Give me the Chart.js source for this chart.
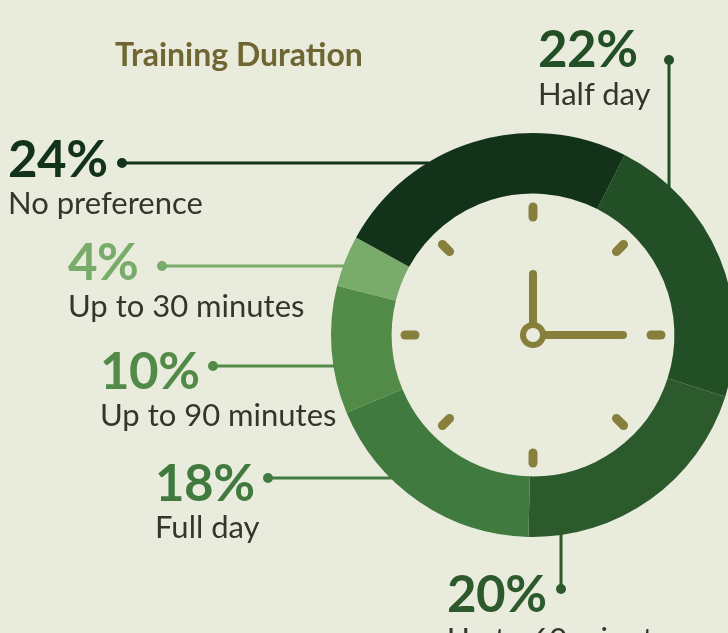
<!DOCTYPE html>
<html>
<head>
<meta charset="utf-8">
<script src="https://cdn.jsdelivr.net/npm/chart.js@4.4.1/dist/chart.umd.min.js"></script>
<style>
  html, body { margin: 0; padding: 0; background: #e9ebdd; overflow: hidden; }
  #wrap { position: relative; width: 760px; height: 633px; }
  #wrap canvas { position: absolute; left: 0; top: 0; }
  .txt { position: absolute; font-family: Lato, sans-serif; line-height: 1; white-space: nowrap; }
  .title { font-size: 32px; font-weight: 700; color: #6f6632; }
  .pct { font-size: 51px; font-weight: 700; letter-spacing: -0.5px; }
  .lab { font-size: 31px; font-weight: 400; color: #35362b; }
</style>
</head>
<body>
<div id="wrap">
  <canvas id="chart" width="760" height="633"></canvas>
</div>
<script>
// Training Duration — clock doughnut
const labels = ['Half day', 'Up to 60 minutes', 'Full day', 'Up to 90 minutes', 'Up to 30 minutes', 'No preference'];
const shares = [22, 20, 18, 10, 4, 24];
const sliceColors = ['#234f26', '#2d5a2d', '#417a3f', '#528b47', '#79ab6a', '#12331a'];

// where each callout sits (dot, leader direction, text left + baselines)
const callouts = [
  { dot: [669, 60],  dir: 'v', x: 538, pctBase: 67,  labBase: 105 },
  { dot: [561, 589], dir: 'v', x: 447, pctBase: 612, labBase: 650 },
  { dot: [268, 478], dir: 'h', x: 155, pctBase: 501, labBase: 538 },
  { dot: [213, 366], dir: 'h', x: 100, pctBase: 389, labBase: 426 },
  { dot: [162, 266], dir: 'h', x: 68,  pctBase: 280, labBase: 317 },
  { dot: [122, 163], dir: 'h', x: 8,   pctBase: 177, labBase: 214 }
];

const olive = '#877f3c';
const bg = '#e9ebdd';

function addText(cls, text, left, baseline, size, color) {
  const d = document.createElement('div');
  d.className = 'txt ' + cls;
  d.textContent = text;
  d.style.left = left + 'px';
  d.style.top = (baseline - 0.887 * size) + 'px';
  if (color) d.style.color = color;
  document.getElementById('wrap').appendChild(d);
}

addText('title', 'Training Duration', 115, 66, 32);
labels.forEach((l, i) => {
  const c = callouts[i];
  addText('pct', shares[i] + '%', c.x, c.pctBase, 51, sliceColors[i]);
  addText('lab', l, c.x, c.labBase, 31);
});

const leaders = {
  id: 'leaders',
  beforeDatasetsDraw(chart) {
    const arc = chart.getDatasetMeta(0).data[0];
    const cx = arc.x, cy = arc.y, r = arc.outerRadius;
    const ctx = chart.ctx;
    ctx.save();
    callouts.forEach((c, i) => {
      const [x, y] = c.dot;
      let ex, ey;
      if (c.dir === 'h') {
        ey = y;
        ex = cx - Math.sqrt(r * r - (y - cy) * (y - cy)) + 2;
      } else {
        ex = x;
        const s = y < cy ? -1 : 1;
        ey = cy + s * (Math.sqrt(r * r - (x - cx) * (x - cx)) - 2);
      }
      ctx.strokeStyle = sliceColors[i];
      ctx.fillStyle = sliceColors[i];
      ctx.lineWidth = 3;
      ctx.beginPath(); ctx.moveTo(x, y); ctx.lineTo(ex, ey); ctx.stroke();
      ctx.beginPath(); ctx.arc(x, y, 5, 0, Math.PI * 2); ctx.fill();
    });
    ctx.restore();
  }
};

const clockFace = {
  id: 'clockFace',
  afterDatasetsDraw(chart) {
    const arc = chart.getDatasetMeta(0).data[0];
    const cx = arc.x, cy = arc.y;
    const ctx = chart.ctx;
    ctx.save();
    ctx.strokeStyle = olive;
    ctx.lineCap = 'round';
    ctx.lineWidth = 9;
    for (let k = 0; k < 8; k++) {
      const a = k * Math.PI / 4;
      ctx.beginPath();
      ctx.moveTo(cx + Math.sin(a) * 118, cy - Math.cos(a) * 118);
      ctx.lineTo(cx + Math.sin(a) * 128, cy - Math.cos(a) * 128);
      ctx.stroke();
    }
    ctx.lineWidth = 8;
    ctx.beginPath(); ctx.moveTo(cx, cy); ctx.lineTo(cx, cy - 61); ctx.stroke();
    ctx.beginPath(); ctx.moveTo(cx, cy); ctx.lineTo(cx + 90, cy); ctx.stroke();
    ctx.fillStyle = olive;
    ctx.beginPath(); ctx.arc(cx, cy, 13, 0, Math.PI * 2); ctx.fill();
    ctx.fillStyle = bg;
    ctx.beginPath(); ctx.arc(cx, cy, 7, 0, Math.PI * 2); ctx.fill();
    ctx.restore();
  }
};

new Chart(document.getElementById('chart'), {
  type: 'doughnut',
  data: { labels: labels, datasets: [{ data: shares, backgroundColor: sliceColors, borderWidth: 0 }] },
  options: {
    responsive: false,
    animation: false,
    rotation: 27,
    cutout: '70%',
    layout: { padding: { left: 331, right: 25, top: 133, bottom: 96 } },
    plugins: { legend: { display: false }, tooltip: { enabled: false } }
  },
  plugins: [leaders, clockFace]
});
</script>
</body>
</html>
